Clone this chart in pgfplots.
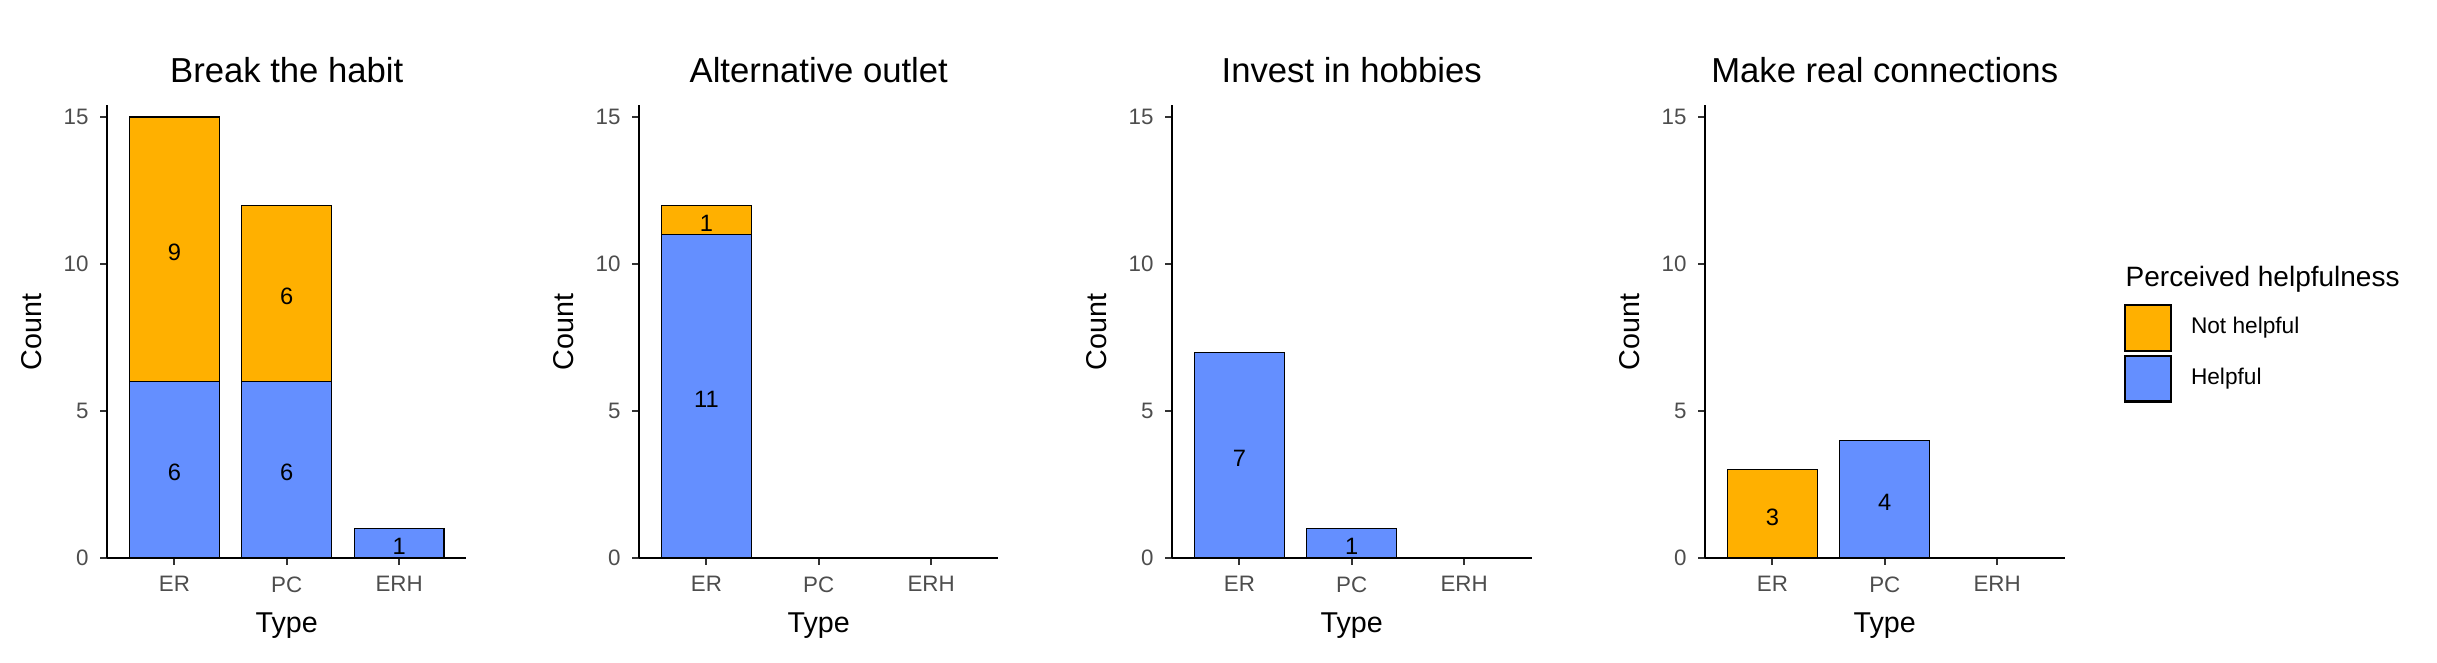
\documentclass[border=0pt]{standalone}
\usepackage{pgfplots}
\pgfplotsset{compat=1.18}
\usepackage{fontspec}
\setmainfont{Liberation Sans}

\definecolor{nothelp}{HTML}{FFB000}
\definecolor{helpc}{HTML}{648FFF}
\definecolor{ticktext}{HTML}{4D4D4D}
\definecolor{tickline}{HTML}{333333}

\newcommand\titlefont{\fontsize{10.4}{12}\selectfont}
\newcommand\labfont{\fontsize{8.6}{10}\selectfont}
\newcommand\tickfont{\fontsize{6.7}{8}\selectfont}
\newcommand\barfont{\fontsize{7.1}{8}\selectfont}
\newcommand\legfont{\fontsize{6.8}{8}\selectfont}
\newcommand\legtitlefont{\fontsize{8.4}{10}\selectfont}

\pgfplotsset{
  panel/.style={
    scale only axis, width=107.85pt, height=135.75pt,
    anchor=south west,
    xmin=0.4, xmax=3.6, ymin=0, ymax=15.39,
    axis x line*=bottom, axis y line*=left,
    axis line style={line width=0.6pt, black},
    xtick={1,2,3}, xticklabels={ER,PC,ERH},
    ytick={0,5,10,15},
    tick align=outside, major tick length=2pt,
    tick style={tickline, line width=0.6pt},
    tick label style={text=ticktext, font=\tickfont},
    /pgf/number format/assume math mode=true,
    xlabel={Type}, ylabel={Count},
    label style={font=\labfont},
    xlabel style={at={(axis description cs:0.5,-0.1657)}, anchor=base},
    ylabel style={at={(axis description cs:-0.2086,0.5)}, anchor=center},
    every axis title shift=0pt,
    title style={at={(axis description cs:0.5,1.0513)}, anchor=base, font=\titlefont},
    clip=false,
  },
  segment/.style={ybar, bar width=0.8, bar shift=0pt, draw=black, line width=0.35pt, fill=#1, forget plot},
  counts/.style={draw=none, mark=none, forget plot, point meta=explicit symbolic,
    nodes near coords, nodes near coords align={center},
    every node near coord/.append style={font=\barfont, text=black, inner sep=0pt, yshift=-0.9pt}},
}

\begin{document}
\begin{tikzpicture}
\useasboundingbox (0,0) rectangle (731.1pt,198.6pt);

% Break the habit
\begin{axis}[panel, at={(32.1pt,31.2pt)}, title={Break the habit}]
\addplot[segment=nothelp] coordinates {(1,15) (2,12)};
\addplot[segment=helpc] coordinates {(1,6) (2,6) (3,1)};
\addplot[counts] coordinates {(1,3) [6] (1,10.5) [9] (2,3) [6] (2,9) [6] (3,0.5) [1]};
\end{axis}

% Alternative outlet
\begin{axis}[panel, at={(191.7pt,31.2pt)}, title={Alternative outlet}]
\addplot[segment=nothelp] coordinates {(1,12)};
\addplot[segment=helpc] coordinates {(1,11)};
\addplot[counts] coordinates {(1,5.5) [11] (1,11.5) [1]};
\end{axis}

% Invest in hobbies
\begin{axis}[panel, at={(351.6pt,31.2pt)}, title={Invest in hobbies}]
\addplot[segment=helpc] coordinates {(1,7) (2,1)};
\addplot[counts] coordinates {(1,3.5) [7] (2,0.5) [1]};
\end{axis}

% Make real connections
\begin{axis}[panel, at={(511.5pt,31.2pt)}, title={Make real connections},
  legend style={at={(axis description cs:1.1655,0.5613)}, anchor=north west,
    draw=none, fill=none, inner sep=0pt, outer sep=0pt, row sep=0.75pt,
    column sep=5.7pt, font=\legfont, nodes={inner sep=0pt}},
  legend cell align=left]
\addplot[segment=nothelp] coordinates {(1,3)};
\addplot[segment=helpc] coordinates {(2,4)};
\addplot[counts] coordinates {(1,1.5) [3] (2,2) [4]};
\addlegendimage{legend image code/.code={\draw[fill=nothelp, draw=black, line width=0.7pt] (0pt,-6.85pt) rectangle (13.7pt,6.85pt);}}
\addlegendentry{Not helpful}
\addlegendimage{legend image code/.code={\draw[fill=helpc, draw=black, line width=0.7pt] (0pt,-6.85pt) rectangle (13.7pt,6.85pt);}}
\addlegendentry{Helpful}
\node[anchor=base west, font=\legtitlefont, inner sep=0pt] at (axis description cs:1.1683,0.5996) {Perceived helpfulness};
\end{axis}
\end{tikzpicture}
\end{document}
